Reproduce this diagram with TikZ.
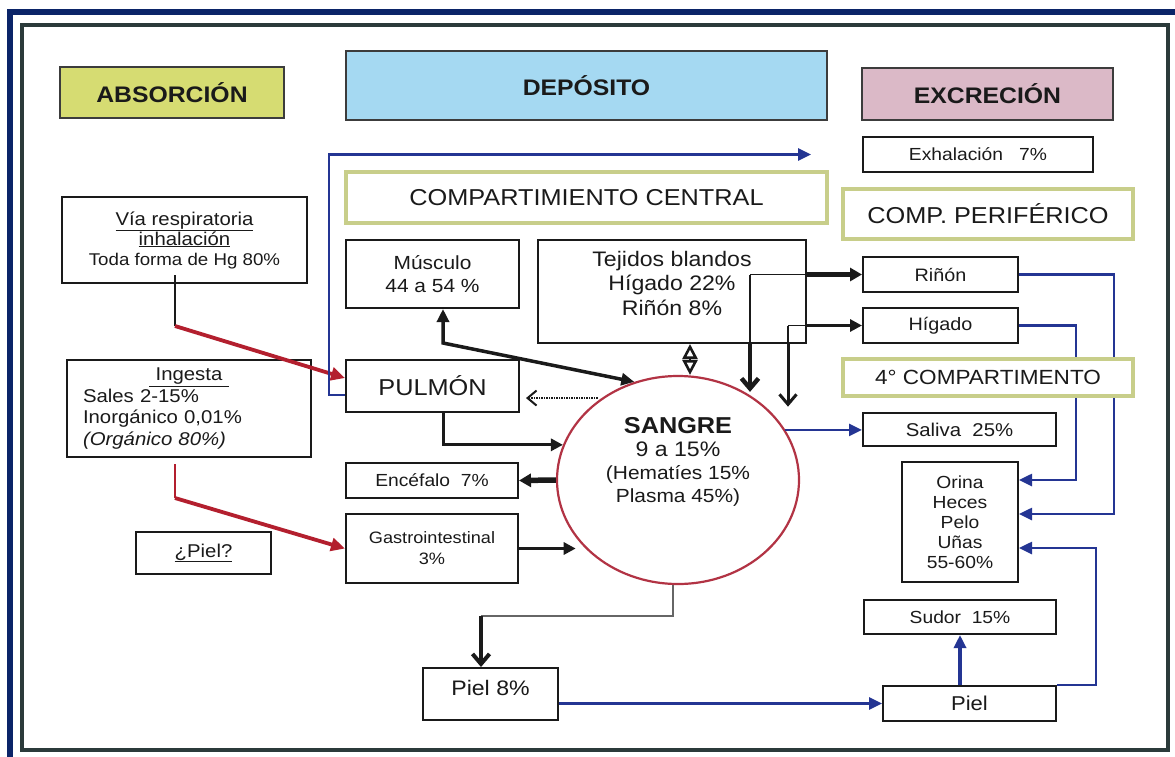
\documentclass[tikz,border=0pt]{standalone}
\usepackage{fontspec}
\setmainfont{Liberation Sans}[FakeStretch=1.1]
\usetikzlibrary{arrows.meta,positioning,calc,shapes.geometric}
\definecolor{hgNavy}{HTML}{0B2468}
\definecolor{hgFrame}{HTML}{2B3A3A}
\definecolor{hgInk}{HTML}{1A1A1A}
\definecolor{hgLime}{HTML}{D6DC72}
\definecolor{hgSky}{HTML}{A5D9F2}
\definecolor{hgMauve}{HTML}{DBB9C7}
\definecolor{hgOlive}{HTML}{C8CE8A}
\definecolor{hgBlue}{HTML}{243593}
\definecolor{hgRed}{HTML}{B31F2E}
\definecolor{hgBlood}{HTML}{B23344}
\newcommand{\fsz}[2]{\fontsize{#1}{#2}\selectfont}
\tikzset{
    header/.style={draw=hgInk!85, line width=1.8pt, inner sep=0pt, text=hgInk, font=\fsz{22.5}{26}\bfseries},
    comp/.style={draw=hgOlive, line width=3.5pt, fill=white, inner sep=0pt, text=hgInk, font=\fsz{23}{26}},
    organ/.style={draw=hgInk, line width=2pt, fill=white, inner sep=0pt, align=center, text=hgInk},
    blood/.style={ellipse, draw=hgBlood, line width=2.2pt, fill=white, inner sep=0pt, align=center, text=hgInk},
    inarrow/.style={-{Triangle[length=12pt,width=12pt]}, line width=3pt, draw=hgInk},
    boldarrow/.style={-{Triangle[length=12pt,width=13pt]}, line width=4.5pt, draw=hgInk},
    droparrow/.style={-{Straight Barb[length=10pt,width=17pt]}, line width=4pt, draw=hgInk},
    dotarrow/.style={-{Straight Barb[length=9pt,width=15pt]}, line width=2pt, dash pattern=on 1.5pt off 1pt, draw=hgInk},
    absarrow/.style={-{Triangle[length=14pt,width=13pt]}, line width=3.8pt, draw=hgRed},
    exarrow/.style={-{Triangle[length=13pt,width=12pt]}, line width=2.6pt, draw=hgBlue},
    feed/.style={line width=1.8pt, draw=hgInk}
}
\begin{document}
\begin{tikzpicture}[x=1pt,y=-1pt]
\useasboundingbox (0,0) rectangle (1175,756);
\fill[white] (0,0) rectangle (1175,756);
\draw[hgNavy, line width=5.5pt] (10,12) rectangle (1200,780);
\draw[hgFrame, line width=4.5pt] (22,25) rectangle (1168,750);

\node[header, fill=hgLime, minimum width=224, minimum height=51] (absorb) at (172,92.5) {ABSORCIÓN};
\node[header, fill=hgSky, minimum width=481, minimum height=69] (deposit) at (586.5,85.5) {DEPÓSITO};
\node[header, fill=hgMauve, minimum width=251, minimum height=52] (excret) at (987.5,94) {EXCRECIÓN};
\node[comp, minimum width=481, minimum height=51] (central) at (586.5,197.5) {COMPARTIMIENTO CENTRAL};
\node[comp, minimum width=290, minimum height=50] (periph) at (988,214) {COMP. PERIFÉRICO};

\node[organ, font=\fsz{17}{20}, minimum width=245, minimum height=86] (resp) at (184.5,240) {{\fsz{18.5}{20}\underline{Vía respiratoria}}\\{\fsz{18.5}{20}\underline{inhalación}}\\Toda forma de Hg 80\%};
\node[organ, font=\fsz{18.5}{21.5}, text width=212, align=left, minimum width=244, minimum height=97] (ingest) at (189,408.5) {\hfill\underline{\ Ingesta\ }\hfill\null\\Sales 2-15\%\\Inorgánico 0,01\%\\\textit{(Orgánico 80\%)}};
\node[organ, font=\fsz{18.5}{21}, minimum width=135, minimum height=42] (skinQ) at (203.5,553) {\underline{¿Piel?}};

\node[organ, font=\fsz{19}{23}, minimum width=173, minimum height=68] (muscle) at (432.5,274) {Músculo\\44 a 54 \%};
\node[organ, font=\fsz{21}{24.5}, minimum width=268, minimum height=103, text depth=17pt] (soft) at (672,291.5) {Tejidos blandos\\Hígado 22\%\\Riñón 8\%};
\node[organ, font=\fsz{23}{26}, minimum width=173, minimum height=52] (lung) at (432.5,386) {PULMÓN};
\node[organ, font=\fsz{17.5}{20}, minimum width=172, minimum height=35] (brain) at (432,480.5) {Encéfalo~~7\%};
\node[organ, font=\fsz{16.5}{21}, minimum width=172, minimum height=69] (gut) at (432,548.5) {Gastrointestinal\\3\%};
\node[organ, font=\fsz{21}{24}, minimum width=135, minimum height=52, text depth=12pt] (skin8) at (490.5,694) {Piel 8\%};
\node[blood, font=\fsz{19}{23}, minimum width=242, minimum height=208, text depth=40pt] (sangre) at (678,480) {{\fsz{23}{23}\bfseries SANGRE}\\{\fsz{21}{23}9 a 15\%}\\(Hematíes 15\%\\Plasma 45\%)};

\node[organ, font=\fsz{17.5}{20}, minimum width=230, minimum height=35] (exhale) at (978,154.5) {Exhalación~~~7\%};
\node[organ, font=\fsz{18}{20}, minimum width=155, minimum height=35] (kidney) at (940.5,274.5) {Riñón};
\node[organ, font=\fsz{18}{20}, minimum width=155, minimum height=35] (liver) at (940.5,325.5) {Hígado};
\node[organ, font=\fsz{18.5}{20}, minimum width=193, minimum height=33] (saliva) at (959.5,429.5) {Saliva~~25\%};
\node[organ, font=\fsz{17.5}{20}, minimum width=116, minimum height=120] (routes) at (960,522) {Orina\\Heces\\Pelo\\Uñas\\55-60\%};
\node[organ, font=\fsz{17.5}{20}, minimum width=192, minimum height=34] (sweat) at (960,617) {Sudor~~15\%};
\node[organ, font=\fsz{20}{22}, minimum width=173, minimum height=35] (skin) at (969.5,703.5) {Piel};

\draw[feed] ([xshift=-9.5pt,yshift=9pt]resp.south) -- ++(0,51) coordinate (respK);
\draw[absarrow] (respK) -- ([yshift=8pt]lung.west);
\draw[feed, draw=hgRed] ([xshift=-14pt,yshift=-6pt]ingest.south) -- ++(0,34) coordinate (ingK);
\draw[absarrow] (ingK) -- (gut.west);

\draw[exarrow, shorten >=51pt] ([yshift=-9pt]lung.west) -- ++(-16,0) |- (exhale.west);
\draw[{Triangle[length=13pt,width=12pt]}-{Triangle[length=13pt,width=12pt]}, line width=3.5pt, draw=hgInk] ([xshift=10.5pt]muscle.south) -- ++(0,34) -- (sangre.114);
\draw[{Triangle[open,length=15pt,width=15pt]}-{Triangle[open,length=15pt,width=15pt]}, line width=2.6pt, draw=hgInk] ([xshift=18pt]soft.south) -- ([xshift=12pt]sangre.north);
\draw[dotarrow, shorten <=4pt, shorten >=6pt] (sangre.133) -- (sangre.133 -| lung.east);
\draw[inarrow] ([xshift=10.5pt]lung.south) |- (sangre.163);
\draw[boldarrow, line width=5.5pt] (sangre.west) -- (brain.east);
\draw[inarrow, shorten >=9pt] (gut.east) -- (gut.east -| sangre.216);

\coordinate (pk) at ([xshift=-9.5pt,yshift=51pt]skin8.north);
\draw[line width=2.6pt, draw=black!60] ([xshift=-5pt]sangre.south) |- (pk);
\draw[droparrow] (pk) -- ([xshift=-9.5pt]skin8.north);

\coordinate (rk) at ([xshift=78pt]soft.north |- kidney.west);
\coordinate (hk) at ([xshift=116pt]soft.north |- liver.west);
\draw[feed] (rk) -- (rk -| soft.east);
\draw[feed] (rk) -- (rk |- soft.south);
\draw[feed] (hk) -- (hk -| soft.east);
\draw[feed] (hk) -- (hk |- soft.south);
\draw[boldarrow] (rk -| soft.east) -- (kidney.west);
\draw[inarrow, line width=3.8pt] (hk -| soft.east) -- (liver.west);
\draw[droparrow, line width=4.5pt, shorten >=4pt] (rk |- soft.south) -- (rk |- sangre.49);
\draw[droparrow, line width=3pt] (hk |- soft.south) -- (hk |- sangre.40);

\draw[exarrow] (sangre.25) -- (sangre.25 -| saliva.west);
\draw[exarrow] (kidney.east) -- ++(95,0) |- ([yshift=8pt]routes.east);
\draw[exarrow] (liver.east) -- ++(57,0) |- ([yshift=42pt]routes.east);
\draw[exarrow] (skin.north east) -- ++(39,0) |- ([yshift=-26pt]routes.east);
\draw[exarrow] (skin8.east |- skin.west) -- (skin.west);
\draw[exarrow, line width=3.2pt] (sweat.south |- skin.north) -- (sweat.south);

\node[comp, font=\fsz{20.5}{24}, minimum width=290, minimum height=37] (fourth) at (988,377.5) {4° COMPARTIMENTO};
\end{tikzpicture}
\end{document}
